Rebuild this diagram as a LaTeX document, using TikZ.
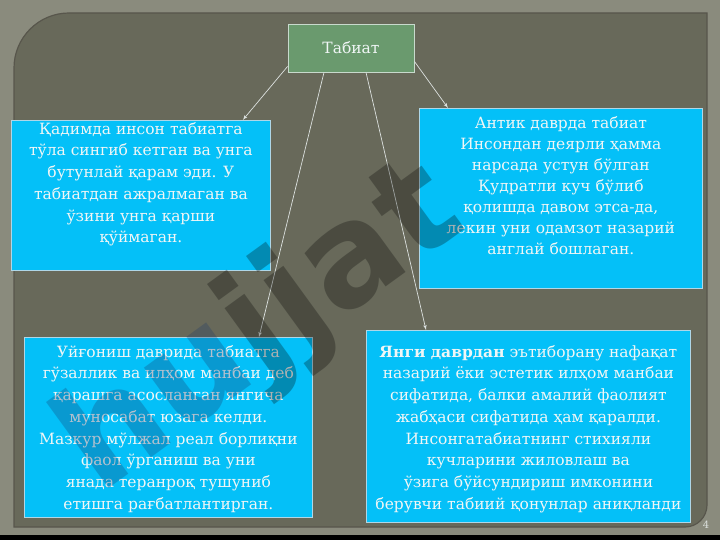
\documentclass[tikz,border=0pt]{standalone}
\usepackage{fontspec}
\setmainfont{DejaVu Serif}
\setsansfont{DejaVu Sans}
\usepackage{xcolor}
\definecolor{Frame}{RGB}{138,139,125}
\definecolor{Panel}{RGB}{104,105,90}
\definecolor{Rim}{RGB}{88,86,76}
\definecolor{Title}{RGB}{106,154,110}
\definecolor{Box}{RGB}{4,192,248}
\definecolor{Edge}{RGB}{175,215,232}
\definecolor{Ink}{RGB}{240,246,246}
\definecolor{Mark}{RGB}{25,55,105}
\usetikzlibrary{shapes,arrows}
\tikzstyle{block} = [rectangle, draw=Edge, line width=0.8pt, fill=Box,
    inner sep=0pt, anchor=north west]
\tikzstyle{words} = [text=Ink, align=center, anchor=north, inner sep=0pt,
    font=\fontsize{15.5}{21.7}\selectfont]
\tikzstyle{line} = [draw=Ink!85!Panel, line width=0.7pt, -latex']

\begin{document}
\begin{tikzpicture}[x=1pt, y=-1pt]
  \useasboundingbox (0,0) rectangle (720,540);
  % slide background
  \fill[Frame] (0,0) rectangle (720,540);
  \fill[Panel, draw=Rim, line width=1.2pt] (14,527) -- (14,68)
      arc[start angle=180, end angle=270, radius=55] -- (707,13) -- (707,505)
      arc[start angle=0, end angle=90, radius=22] -- cycle;
  \fill[black] (0,535) rectangle (720,540);
  \node[text=Ink!80!Frame, font=\fontsize{10}{10}\selectfont] (Page) at (706,525) {4};
  %
  \node [rectangle, draw=Ink!70!Title, line width=0.8pt, fill=Title, text=Ink,
    minimum width=126, minimum height=48, font=\fontsize{15.5}{18}\selectfont]
    (Nature) at (351,48) {Табиат};
  %
  \node [block, minimum width=259, minimum height=150] (Ancient) at (11,120) {};
  \node [words] (AncientText) at ([yshift=-2]Ancient.north)
    {Қадимда инсон табиатга\\ тўла сингиб кетган ва унга\\ бутунлай қарам эди. У\\
     табиатдан ажралмаган ва\\ ўзини унга қарши\\ қўймаган.};
  %
  \node [block, minimum width=283, minimum height=180] (Antique) at (419,108) {};
  \node [words, font=\fontsize{15.5}{21}\selectfont] (AntiqueText) at ([yshift=-8]Antique.north)
    {Антик даврда табиат\\ Инсондан деярли ҳамма\\ нарсада устун бўлган\\
     Қудратли куч бўлиб\\ қолишда давом этса-да,\\ лекин уни одамзот назарий\\
     англай бошлаган.};
  %
  \node [block, minimum width=288, minimum height=180] (Revival) at (24,337) {};
  \node [words] (RevivalText) at ([yshift=-8]Revival.north)
    {Уйғониш даврида табиатга\\ гўзаллик ва илҳом манбаи деб\\ қарашга асосланган янгича\\
     муносабат юзага келди.\\ Мазкур мўлжал реал борлиқни\\ фаол ўрганиш ва уни\\
     янада теранроқ тушуниб\\ етишга рағбатлантирган.};
  %
  \node [block, minimum width=324, minimum height=192] (Modern) at (366,330) {};
  \node [words] (ModernText) at ([yshift=-15]Modern.north)
    {\textbf{Янги даврдан} эътиборану нафақат\\ назарий ёки эстетик илҳом манбаи\\
     сифатида, балки амалий фаолият\\ жабҳаси сифатида ҳам қаралди.\\
     Инсонгатабиатнинг стихияли\\ кучларини жиловлаш ва\\
     ўзига бўйсундириш имконини\\ берувчи табиий қонунлар аниқланди};
  %
  \path [line] ([yshift=6]Nature.south west) -- ([xshift=-28]Ancient.north east);
  \path [line] ([xshift=-27]Nature.south) -- ([xshift=235]Revival.north west);
  \path [line] ([xshift=15]Nature.south) -- ([xshift=60]Modern.north west);
  \path [line] ([yshift=11]Nature.south east) -- ([xshift=29]Antique.north west);
  %
  % watermark over the slide
  \node [opacity=0.28, rotate=36, font=\sffamily\bfseries\fontsize{140}{140}\selectfont]
    (Stamp) at (262,330) {\textcolor{Mark}{hu}\textcolor{black}{jjat}};
\end{tikzpicture}
\end{document}
